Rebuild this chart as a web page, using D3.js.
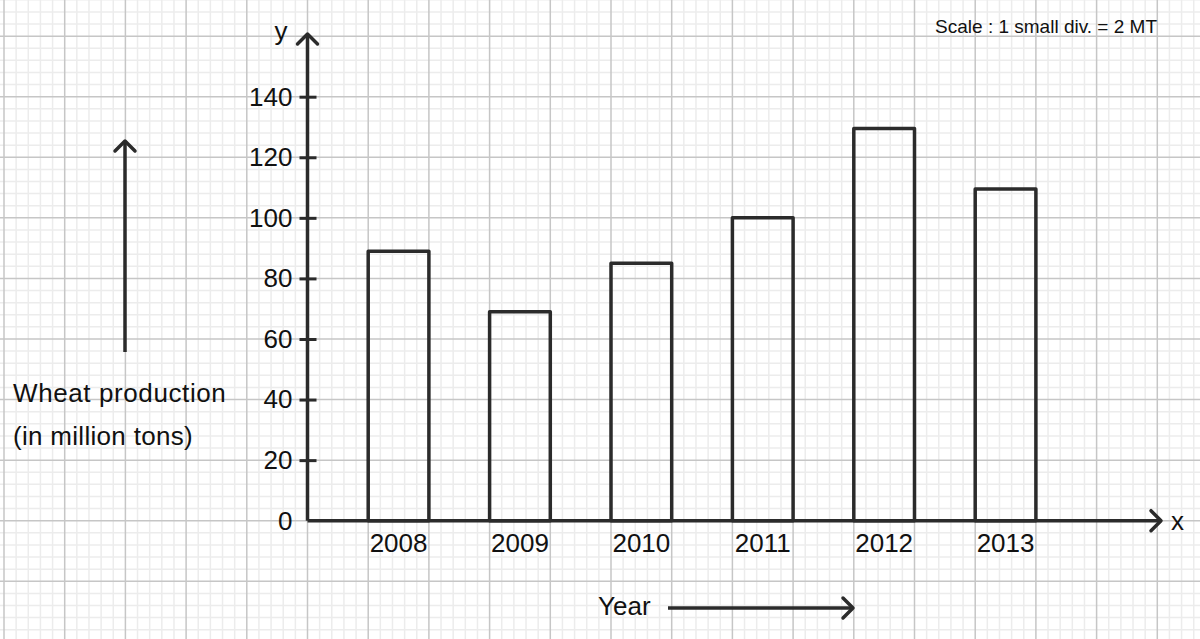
<!DOCTYPE html>
<html>
<head>
<meta charset="utf-8">
<script src="https://cdn.jsdelivr.net/npm/d3@7"></script>
<style>
  html, body { margin: 0; padding: 0; background: #fff; }
  svg text { font-family: "Liberation Sans", Arial, sans-serif; fill: #111; }
</style>
</head>
<body>
<div id="chart"></div>
<script>
// data (million tons)
const years = ["2008", "2009", "2010", "2011", "2012", "2013"];
const production = [89, 69, 85, 100, 129.5, 109.5];
const yTicks = [0, 20, 40, 60, 80, 100, 120, 140];

const W = 1200, H = 639;
const x0 = 307.5, y0 = 520.7;
const cell = 60.7; // one big square of the graph paper

const svg = d3.select("#chart").append("svg")
  .attr("width", W)
  .attr("height", H);

const x = d3.scaleBand()
  .domain(years)
  .range([x0, x0 + 13 * cell])
  .paddingInner(0.5)
  .paddingOuter(0.5);

const y = d3.scaleLinear()
  .domain([0, 140])
  .range([y0, 96.7]);

// graph paper: 5 small divisions per big square
const minorX = d3.range(-30, 80).map(k => x0 + k * cell / 5);
const minorY = d3.range(-20, 50).map(k => k * 4);

const grid = svg.append("g");
grid.selectAll(".vminor")
  .data(minorX.filter((d, i) => (i - 30) % 5 !== 0))
  .enter().append("line")
  .attr("x1", d => d).attr("x2", d => d)
  .attr("y1", 0).attr("y2", H)
  .attr("stroke", "#ececec").attr("stroke-width", 1.5);
grid.selectAll(".hminor")
  .data(minorY.filter(d => d % 20 !== 0))
  .enter().append("line")
  .attr("x1", 0).attr("x2", W)
  .attr("y1", d => y(d)).attr("y2", d => y(d))
  .attr("stroke", "#ececec").attr("stroke-width", 1.5);
grid.selectAll(".vmajor")
  .data(minorX.filter((d, i) => (i - 30) % 5 === 0))
  .enter().append("line")
  .attr("x1", d => d).attr("x2", d => d)
  .attr("y1", 0).attr("y2", H)
  .attr("stroke", "#c6c6c6").attr("stroke-width", 1.5);
grid.selectAll(".hmajor")
  .data(minorY.filter(d => d % 20 === 0))
  .enter().append("line")
  .attr("x1", 0).attr("x2", W)
  .attr("y1", d => y(d)).attr("y2", d => y(d))
  .attr("stroke", "#c6c6c6").attr("stroke-width", 1.5);

// bars, outline only so the paper shows through
svg.selectAll(".bar")
  .data(production)
  .enter().append("rect")
  .attr("x", (d, i) => x(years[i]))
  .attr("y", d => y(d))
  .attr("width", x.bandwidth())
  .attr("height", d => y(0) - y(d))
  .attr("fill", "none")
  .attr("stroke", "#2b2b2b")
  .attr("stroke-width", 3.5)
  .attr("stroke-linejoin", "round");

// y axis with ticks crossing the line
const yAxis = svg.append("g")
  .attr("transform", `translate(${x0},0)`)
  .call(d3.axisLeft(y).tickValues(yTicks).tickSize(8).tickPadding(8));
yAxis.select(".domain").remove();
yAxis.selectAll(".tick line")
  .attr("x1", -8).attr("x2", 9)
  .attr("stroke", "#2b2b2b").attr("stroke-width", 3);
yAxis.selectAll(".tick line").filter(d => d === 0).remove();
yAxis.selectAll(".tick text")
  .attr("x", -15)
  .attr("font-size", 26)
  .style("font-family", '"Liberation Sans", Arial, sans-serif')
  .attr("fill", "#111");

// x axis year labels
const xAxis = svg.append("g")
  .attr("transform", `translate(0,${y0})`)
  .call(d3.axisBottom(x).tickSize(0).tickPadding(13));
xAxis.select(".domain").remove();
xAxis.selectAll(".tick text")
  .attr("font-size", 26)
  .style("font-family", '"Liberation Sans", Arial, sans-serif')
  .attr("fill", "#111");

// axis lines with open arrow heads
const axisColor = "#2b2b2b";
function arrowLine(x1, y1, x2, y2) {
  const a = Math.atan2(y2 - y1, x2 - x1), s = 10;
  svg.append("line")
    .attr("x1", x1).attr("y1", y1).attr("x2", x2).attr("y2", y2)
    .attr("stroke", axisColor).attr("stroke-width", 3.5);
  const p = d3.path();
  p.moveTo(x2 - s * Math.cos(a) + s * Math.sin(a), y2 - s * Math.sin(a) - s * Math.cos(a));
  p.lineTo(x2, y2);
  p.lineTo(x2 - s * Math.cos(a) - s * Math.sin(a), y2 - s * Math.sin(a) + s * Math.cos(a));
  svg.append("path")
    .attr("d", p.toString())
    .attr("fill", "none")
    .attr("stroke", axisColor)
    .attr("stroke-width", 3.5)
    .attr("stroke-linecap", "round")
    .attr("stroke-linejoin", "round");
}
arrowLine(x0, y0, x0, 34);
arrowLine(x0, y0, 1161, y0);
arrowLine(125, 352, 125, 141);
arrowLine(668, 608, 853, 608);

svg.append("text").attr("x", 281).attr("y", 40)
  .attr("text-anchor", "middle").attr("font-size", 26).text("y");
svg.append("text").attr("x", 1171).attr("y", 530)
  .attr("font-size", 26).text("x");

svg.append("text").attr("x", 13).attr("y", 402)
  .attr("font-size", 26).attr("letter-spacing", 0.6).text("Wheat production");
svg.append("text").attr("x", 13).attr("y", 445)
  .attr("font-size", 26).attr("letter-spacing", 0.3).text("(in million tons)");

svg.append("text").attr("x", 598).attr("y", 615)
  .attr("font-size", 26).text("Year");

svg.append("text").attr("x", 1157).attr("y", 33)
  .attr("text-anchor", "end").attr("font-size", 19)
  .text("Scale : 1 small div. = 2 MT");
</script>
</body>
</html>
